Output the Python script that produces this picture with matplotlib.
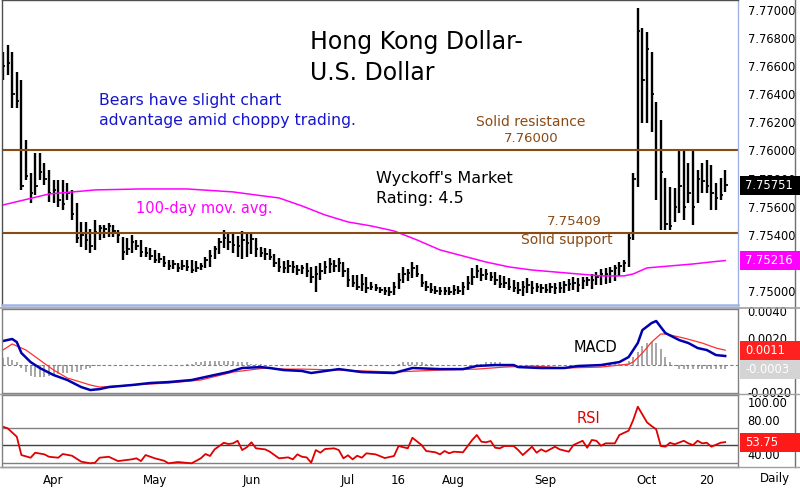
import matplotlib
matplotlib.use("Agg")
import matplotlib.pyplot as plt
from matplotlib.lines import Line2D
from matplotlib.patches import Rectangle
import numpy as np

# daily bars, HKD/USD
highs = [7.76701, 7.76751, 7.76701, 7.76559, 7.76502, 7.76075, 7.75840, 7.75982, 7.75982, 7.75911,
         7.75861, 7.75790, 7.75790, 7.75790, 7.75769, 7.75719, 7.75626, 7.75491, 7.75491, 7.75441,
         7.75505, 7.75470, 7.75470, 7.75484, 7.75470, 7.75434, 7.75384, 7.75377, 7.75399, 7.75363,
         7.75363, 7.75313, 7.75306, 7.75292, 7.75270, 7.75249, 7.75221, 7.75221, 7.75199, 7.75221,
         7.75221, 7.75221, 7.75214, 7.75199, 7.75242, 7.75292, 7.75320, 7.75377, 7.75434, 7.75420,
         7.75413, 7.75391, 7.75427, 7.75413, 7.75420, 7.75377, 7.75313, 7.75306, 7.75299, 7.75263,
         7.75235, 7.75214, 7.75221, 7.75214, 7.75185, 7.75185, 7.75199, 7.75171, 7.75178, 7.75199,
         7.75214, 7.75235, 7.75221, 7.75235, 7.75206, 7.75164, 7.75114, 7.75114, 7.75121, 7.75100,
         7.75064, 7.75050, 7.75028, 7.75028, 7.75028, 7.75064, 7.75128, 7.75171, 7.75157, 7.75206,
         7.75185, 7.75121, 7.75071, 7.75057, 7.75036, 7.75028, 7.75028, 7.75028, 7.75043, 7.75036,
         7.75064, 7.75107, 7.75164, 7.75185, 7.75164, 7.75157, 7.75135, 7.75135, 7.75114, 7.75107,
         7.75093, 7.75078, 7.75064, 7.75071, 7.75093, 7.75071, 7.75057, 7.75050, 7.75050, 7.75057,
         7.75057, 7.75064, 7.75071, 7.75085, 7.75100, 7.75093, 7.75100, 7.75100, 7.75121, 7.75135,
         7.75157, 7.75164, 7.75171, 7.75185, 7.75206, 7.75221, 7.75413, 7.75840, 7.77014, 7.76872,
         7.76843, 7.76701, 7.76345, 7.76217, 7.75804, 7.75740, 7.75733, 7.76004, 7.76004, 7.75911,
         7.76004, 7.75861, 7.75911, 7.75932, 7.75897, 7.75769, 7.75804, 7.75861]
lows = [7.76502, 7.76537, 7.76302, 7.76302, 7.75719, 7.75790, 7.75626, 7.75683, 7.75790, 7.75754,
        7.75633, 7.75626, 7.75598, 7.75576, 7.75648, 7.75505, 7.75342, 7.75313, 7.75292, 7.75270,
        7.75292, 7.75363, 7.75377, 7.75384, 7.75384, 7.75342, 7.75221, 7.75256, 7.75270, 7.75292,
        7.75242, 7.75242, 7.75221, 7.75199, 7.75199, 7.75171, 7.75149, 7.75157, 7.75135, 7.75149,
        7.75142, 7.75128, 7.75135, 7.75149, 7.75164, 7.75171, 7.75228, 7.75263, 7.75306, 7.75292,
        7.75270, 7.75242, 7.75228, 7.75242, 7.75263, 7.75242, 7.75242, 7.75221, 7.75221, 7.75171,
        7.75135, 7.75128, 7.75128, 7.75128, 7.75114, 7.75121, 7.75100, 7.75057, 7.74993, 7.75078,
        7.75121, 7.75128, 7.75135, 7.75135, 7.75100, 7.75028, 7.75028, 7.75007, 7.75000, 7.74986,
        7.75007, 7.75000, 7.74986, 7.74972, 7.74964, 7.74972, 7.75014, 7.75057, 7.75071, 7.75093,
        7.75100, 7.75028, 7.75000, 7.74986, 7.74979, 7.74972, 7.74972, 7.74972, 7.74972, 7.74979,
        7.74972, 7.75007, 7.75043, 7.75093, 7.75071, 7.75078, 7.75071, 7.75043, 7.75021, 7.75021,
        7.75007, 7.74993, 7.74979, 7.74964, 7.74986, 7.74979, 7.74993, 7.74986, 7.74986, 7.74986,
        7.74979, 7.74986, 7.74986, 7.75000, 7.75007, 7.74993, 7.75014, 7.75036, 7.75014, 7.75043,
        7.75043, 7.75050, 7.75057, 7.75071, 7.75107, 7.75135, 7.75171, 7.75363, 7.75740, 7.76196,
        7.76196, 7.76132, 7.75648, 7.75434, 7.75434, 7.75434, 7.75491, 7.75555, 7.75505, 7.75626,
        7.75470, 7.75626, 7.75697, 7.75697, 7.75576, 7.75576, 7.75648, 7.75705]
closes = [7.7660, 7.7662, 7.7640, 7.7635, 7.7575, 7.7582, 7.7570, 7.7575, 7.7585, 7.7580,
          7.7570, 7.7572, 7.7565, 7.7562, 7.7570, 7.7555, 7.7538, 7.7540, 7.7536, 7.7532,
          7.7542, 7.7545, 7.7544, 7.7546, 7.7543, 7.7540, 7.7528, 7.7530, 7.7535, 7.7532,
          7.7528, 7.7527, 7.7525, 7.7522, 7.7523, 7.7520, 7.7518, 7.7519, 7.7516, 7.7518,
          7.7517, 7.7515, 7.7516, 7.7518, 7.7522, 7.7525, 7.7530, 7.7535, 7.7538, 7.7535,
          7.7533, 7.7532, 7.7536, 7.7534, 7.7537, 7.7530, 7.7527, 7.7526, 7.7524, 7.7520,
          7.7517, 7.7516, 7.7518, 7.7517, 7.7515, 7.7516, 7.7514, 7.7510, 7.7512, 7.7514,
          7.7517, 7.7519, 7.7518, 7.7520, 7.7514, 7.7508, 7.7506, 7.7503, 7.7505, 7.7502,
          7.7503, 7.7502, 7.7501, 7.7500, 7.7499, 7.7503, 7.7508, 7.7512, 7.7513, 7.7516,
          7.7512, 7.7506, 7.7503, 7.7501, 7.7500, 7.7500, 7.7500, 7.7499, 7.7501, 7.7500,
          7.7503, 7.7506, 7.7510, 7.7514, 7.7511, 7.7512, 7.7510, 7.7508, 7.7505, 7.7506,
          7.7503, 7.7502, 7.7501, 7.7503, 7.7504, 7.7502, 7.7503, 7.7502, 7.7501, 7.7503,
          7.7502, 7.7502, 7.7504, 7.7505, 7.7506, 7.7504, 7.7507, 7.7508, 7.7508, 7.7510,
          7.7512, 7.7512, 7.7514, 7.7516, 7.7518, 7.7520, 7.7538, 7.7580, 7.7685, 7.7650,
          7.7672, 7.7640, 7.7600, 7.7585, 7.7548, 7.7546, 7.7560, 7.7575, 7.7560, 7.7570,
          7.7560, 7.7580, 7.7578, 7.7575, 7.7570, 7.7566, 7.7568, 7.75751]

# 100-day moving average (sampled)
ma_idx = [0, 10, 20, 30, 40, 50, 55, 60, 65, 70, 75, 80, 85, 90, 95, 100, 105, 110,
          115, 120, 125, 130, 135, 137, 140, 145, 150, 155, 157]
ma_val = [7.75612, 7.75690, 7.75719, 7.75726, 7.75726, 7.75705, 7.75683, 7.75662, 7.75605,
          7.75541, 7.75491, 7.75463, 7.75427, 7.75363, 7.75292, 7.75249, 7.75206, 7.75171,
          7.75149, 7.75135, 7.75121, 7.75107, 7.75107, 7.75121, 7.75164, 7.75178, 7.75192,
          7.75210, 7.75216]

resistance = 7.76000
support = 7.75409

# MACD
macd_idx = [0, 2, 3, 4, 6, 8, 11, 14, 17, 19, 21, 23, 28, 32, 36, 41, 45, 49, 52, 56, 58,
            61, 65, 67, 73, 78, 85, 89, 95, 100, 103, 107, 111, 112, 117, 122, 125, 130, 134,
            136, 138, 139, 141, 142, 143, 144, 147, 149, 151, 153, 155, 157]
macd_val = [0.00178, 0.00193, 0.00170, 0.00089, 0.00022, -0.00022, -0.00074, -0.00111,
            -0.00163, -0.00185, -0.00178, -0.00163, -0.00148, -0.00133, -0.00126, -0.00111,
            -0.00081, -0.00052, -0.00022, -0.00015, -0.00022, -0.00037, -0.00044, -0.00059,
            -0.00030, -0.00052, -0.00059, -0.00022, -0.00030, -0.00030, -0.00007, 0.0,
            0.0, -0.00015, -0.00022, -0.00022, -0.00007, 0.0, 0.00022, 0.00059, 0.00163,
            0.00259, 0.00311, 0.00326, 0.00281, 0.00237, 0.00185, 0.00163, 0.00126, 0.00111,
            0.00074, 0.00067]
sig_idx = [0, 2, 5, 8, 11, 14, 19, 21, 28, 36, 43, 50, 57, 61, 65, 73, 85, 95, 103, 109,
           115, 122, 130, 136, 137, 139, 141, 143, 144, 148, 152, 155, 157]
sig_val = [0.00111, 0.00156, 0.00111, 0.00037, -0.00037, -0.00096, -0.00148, -0.00163,
           -0.00148, -0.00133, -0.00111, -0.00052, -0.00022, -0.00030, -0.00030, -0.00037,
           -0.00052, -0.00037, -0.00030, -0.00015, -0.00007, -0.00022, -0.00015, 0.00007,
           0.00022, 0.00089, 0.00170, 0.00230, 0.00230, 0.00200, 0.00163, 0.00126, 0.00110]
hist = [0.0005, 0.0006, 0.0004, 0.0002, -0.0002, -0.0005, -0.0008, -0.0009, -0.0009, -0.0009,
        -0.0008, -0.0008, -0.0007, -0.0006, -0.0006, -0.0005, -0.0005, -0.0004, -0.0003, -0.0002,
        -0.0001, -0.00005, -0.00003, -0.00003, 0.00003, 0.00003, 0.00003, 0.00003, 0.00003, 0.00003,
        0.00003, 0.00003, 0.00003, 0.00003, 0.00003, 0.00003, 0.00003, 0.00003, 0.00003, 0.00003,
        0.00005, 0.0001, 0.0002, 0.0002, 0.0003, 0.0003, 0.0003, 0.0003, 0.0003, 0.0003,
        0.0003, 0.0002, 0.0002, 0.0002, 0.0001, 0.0001, 0.00005, 0.00003, -0.00003, -0.00003,
        -0.00003, -0.00003, 0.00003, 0.00003, 0.00003, 0.00003, -0.00003, -0.00003, 0.00003, 0.00003,
        0.00003, 0.00003, 0.00003, 0.00003, -0.00003, -0.00003, -0.00003, 0.00003, 0.00003, 0.00003,
        0.00003, 0.00003, 0.00003, 0.00003, 0.00003, 0.00003, 0.0001, 0.0002, 0.0002, 0.0002,
        0.0002, 0.0002, 0.0001, 0.00005, 0.00003, 0.00003, 0.00003, 0.00003, 0.00003, 0.00003,
        0.00003, 0.00003, 0.00003, 0.00005, 0.0001, 0.0002, 0.0002, 0.0002, 0.0002, 0.0001,
        0.00005, 0.00003, 0.00003, 0.00003, 0.00003, 0.00003, 0.00003, 0.00003, 0.00003, 0.00003,
        0.00003, 0.00003, 0.00003, 0.00003, 0.00003, 0.00003, 0.00003, 0.00003, 0.00003, 0.00003,
        0.00005, 0.0001, 0.0001, 0.0001, 0.0001, 0.0001, 0.0003, 0.0006, 0.0010, 0.0014,
        0.0016, 0.0017, 0.0016, 0.0012, 0.0006, 0.0002, -0.0001, -0.0003, -0.0003, -0.0003,
        -0.0003, -0.0003, -0.0003, -0.0003, -0.0003, -0.0003, -0.0003, -0.0003]

# RSI
rsi_idx = [0, 1, 3, 4, 6, 7, 9, 10, 12, 13, 15, 17, 19, 20, 21, 23, 25, 28, 29, 30, 31, 33,
           35, 36, 38, 41, 43, 44, 45, 46, 48, 49, 50, 51, 52, 53, 54, 55, 57, 58, 60, 62,
           63, 64, 65, 66, 67, 68, 69, 70, 72, 73, 74, 75, 76, 77, 78, 79, 81, 83, 85, 86,
           88, 89, 91, 92, 94, 95, 96, 97, 98, 100, 102, 103, 104, 105, 106, 107, 108, 109,
           111, 112, 113, 115, 116, 117, 118, 120, 121, 123, 124, 126, 127, 128, 129, 130,
           131, 133, 134, 136, 137, 138, 140, 141, 142, 143, 144, 145, 146, 148, 149, 150,
           151, 152, 153, 154, 156, 157]
rsi_val = [71.6, 69.8, 60.0, 38.7, 35.6, 41.4, 39.5, 36.7, 35.6, 39.9, 37.9, 31.0, 29.1, 29.8,
           35.6, 36.7, 31.7, 33.7, 34.9, 31.7, 38.7, 34.9, 32.1, 29.1, 30.6, 29.1, 34.9, 39.9,
           37.6, 45.3, 53.0, 51.5, 52.3, 55.3, 44.5, 47.7, 53.5, 46.5, 45.3, 42.6, 34.9, 36.0,
           33.7, 39.5, 36.7, 36.0, 29.8, 44.5, 41.4, 45.7, 46.5, 44.5, 34.9, 38.4, 33.7, 37.9,
           35.6, 40.7, 39.5, 35.2, 37.6, 49.2, 46.5, 58.8, 50.3, 43.4, 41.9, 39.5, 43.4, 40.7,
           42.6, 41.9, 56.2, 62.0, 54.2, 53.5, 55.0, 47.2, 46.5, 49.2, 49.2, 44.5, 38.7, 48.4,
           41.4, 45.3, 42.6, 48.4, 45.3, 42.6, 50.3, 55.3, 47.2, 56.2, 55.3, 49.5, 52.3, 52.3,
           62.0, 67.0, 79.4, 94.9, 76.7, 72.4, 68.6, 49.2, 48.4, 53.0, 51.2, 55.3, 52.3, 50.3,
           55.3, 52.3, 53.0, 48.4, 53.0, 53.75]

tick_pos = [11, 33, 54, 75, 86, 98, 118, 140, 153]
tick_lab = ["Apr", "May", "Jun", "Jul", "16", "Aug", "Sep", "Oct", "20"]

BROWN = "#8b4a14"
W, H = 800, 490


def rect(x0, y0, x1, y1):
    # pixel box (top-left origin) -> figure fraction
    return [x0 / W, 1 - y1 / H, (x1 - x0) / W, (y1 - y0) / H]


def px(x, y):
    return x / W, 1 - y / H


fig = plt.figure(figsize=(8, 4.9), dpi=100)
fig.patch.set_facecolor("white")

ax = fig.add_axes(rect(2, 0, 738, 305))
ax_m = fig.add_axes(rect(2, 309, 738, 393), sharex=ax)
ax_r = fig.add_axes(rect(2, 395, 738, 467), sharex=ax)

n = len(highs)
idx = np.arange(n)
x_lo = (2 - 3) / 4.6
x_hi = (738 - 3) / 4.6

# --- price panel
ax.vlines(idx, lows, highs, color="black", lw=1.7)
ax.hlines(closes, idx, idx + 0.5, color="black", lw=1.3)
ax.plot(ma_idx, ma_val, color="#ff00ff", lw=1.1)
ax.axhline(resistance, color=BROWN, lw=1.5)
ax.axhline(support, color=BROWN, lw=1.5)
ax.set_xlim(x_lo, x_hi)
ax.set_ylim(7.74900, 7.77071)
ax.set_yticks(np.arange(7.750, 7.7701, 0.002))
ax.yaxis.set_major_formatter(plt.FormatStrFormatter("%.5f"))

for a in (ax, ax_m, ax_r):
    a.yaxis.tick_right()
    a.tick_params(axis="y", length=0, pad=7, labelsize=8.3)
    a.tick_params(axis="x", length=0, labelbottom=False)
    for s in a.spines.values():
        s.set_color("#808080")
        s.set_linewidth(1.0)
ax.spines["right"].set_color("#9fb3e3")
ax.spines["bottom"].set_color("#9fb3e3")
ax.spines["bottom"].set_linewidth(1.8)
ax.spines["left"].set_color("#505050")
ax.spines["top"].set_color("#505050")

# --- MACD panel
ax_m.bar(idx, hist, width=0.4, color="#a8a8a8")
ax_m.axhline(0, color="#808080", lw=0.8, ls=(0, (3, 2)))
ax_m.plot(sig_idx, sig_val, color="#ff3030", lw=0.9)
ax_m.plot(macd_idx, macd_val, color="#0000b0", lw=1.8)
ax_m.set_ylim(-0.00207, 0.00415)
ax_m.set_yticks([-0.002, 0.002, 0.004])
ax_m.yaxis.set_major_formatter(plt.FormatStrFormatter("%.4f"))

# --- RSI panel
for lvl, c in ((70, "#808080"), (50, "#404040"), (30, "#808080")):
    ax_r.axhline(lvl, color=c, lw=1.0)
ax_r.plot(rsi_idx, rsi_val, color="#e00000", lw=1.3)
ax_r.set_ylim(24.8, 108.5)
ax_r.set_yticks([40, 60, 80, 100])
ax_r.yaxis.set_major_formatter(plt.FormatStrFormatter("%.2f"))
ax_r.set_xticks(tick_pos)
ax_r.set_xticklabels(tick_lab)
ax_r.tick_params(axis="x", labelbottom=True, labelsize=8.5, pad=5)


# last-value tags on the right price scale
def tag(a, y, text, fc, tc="white"):
    fy = a.transData.transform((0, y))[1] / fig.bbox.height
    fig.patches.append(Rectangle((740 / W, fy - 9.5 / H), 60 / W, 19 / H,
                                 transform=fig.transFigure, fc=fc, ec="none", zorder=5))
    fig.text(745 / W, fy, text, color=tc, fontsize=8.3, va="center", zorder=6)


tag(ax, closes[-1], "%.5f" % closes[-1], "black")
tag(ax, ma_val[-1], "%.5f" % ma_val[-1], "#ff00ff")
tag(ax_m, sig_val[-1], "%.4f" % sig_val[-1], "#ff2020")
tag(ax_m, hist[-1], "%.4f" % hist[-1], "#d4d4d4")
tag(ax_r, rsi_val[-1], "%.2f" % rsi_val[-1], "#ff1a1a")

# --- text
fig.text(*px(310, 42), "Hong Kong Dollar-", fontsize=17, va="center")
fig.text(*px(310, 73), "U.S. Dollar", fontsize=17, va="center")
fig.text(*px(99, 101), "Bears have slight chart", fontsize=11.3, color="#1515d0", va="center")
fig.text(*px(99, 121), "advantage amid choppy trading.", fontsize=11.3, color="#1515d0", va="center")
fig.text(*px(476, 122), "Solid resistance", fontsize=10, color=BROWN, va="center")
fig.text(*px(504, 138), "7.76000", fontsize=9.5, color=BROWN, va="center")
fig.text(*px(376, 178), "Wyckoff's Market", fontsize=11.5, va="center")
fig.text(*px(376, 199), "Rating: 4.5", fontsize=11.5, va="center")
fig.text(*px(136, 209), "100-day mov. avg.", fontsize=10.5, color="#ff00ff", va="center")
fig.text(*px(547, 221), "7.75409", fontsize=9.5, color=BROWN, va="center")
fig.text(*px(521, 240), "Solid support", fontsize=10, color=BROWN, va="center")
fig.text(*px(574, 348), "MACD", fontsize=10.5, va="center")
fig.text(*px(577, 418), "RSI", fontsize=10.5, color="#e00000", va="center")
fig.text(*px(760, 478), "Daily", fontsize=8.5, va="center")

fig.add_artist(Line2D([795 / W, 795 / W], [1 - 467 / H, 1.0], color="#707070", lw=1.0))
fig.add_artist(Line2D([0, 1], [1 - 307.5 / H, 1 - 307.5 / H], color="#a0a0a0", lw=1.2))
fig.add_artist(Line2D([0, 1], [1 - 394 / H, 1 - 394 / H], color="#a0a0a0", lw=1.0))
fig.add_artist(Line2D([0, 1], [1 - 467 / H, 1 - 467 / H], color="#a0a0a0", lw=1.0))

fig.savefig("out.png", dpi=100)
